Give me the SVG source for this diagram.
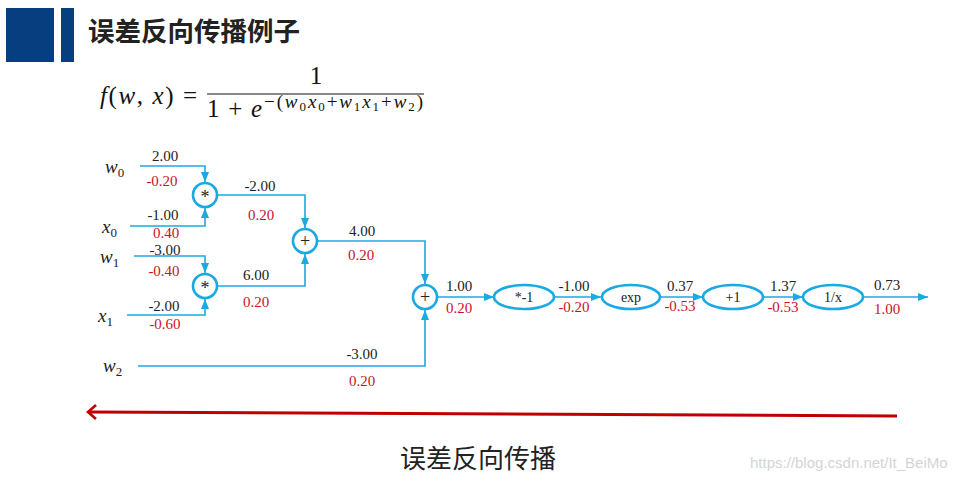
<svg xmlns="http://www.w3.org/2000/svg" width="963" height="481" viewBox="0 0 963 481">
<style>
.bg{fill:#fff}
.bar{fill:#063e80}
.title{font-family:"Noto Sans CJK SC","Noto Sans",sans-serif;font-weight:bold;font-size:26.5px;fill:#222}
.math{font-family:"Liberation Serif","DejaVu Serif",serif;fill:#111}
.it{font-style:italic}
.node{fill:#fff;stroke:#1ba9e1;stroke-width:2.6}
.edge{fill:none;stroke:#1ba9e1;stroke-width:1.6}
.op{font-family:"Liberation Serif",serif;font-size:14px;fill:#222;text-anchor:middle}
.opc{font-family:"Liberation Serif",serif;font-size:18px;fill:#222;text-anchor:middle}
.val{font-family:"Liberation Serif",serif;font-size:15px;fill:#222;text-anchor:middle}
.grad{font-family:"Liberation Serif",serif;font-size:15px;fill:#c8141e;text-anchor:middle}
.var{font-family:"Liberation Serif",serif;font-size:19px;font-style:italic;fill:#222}
.sub{font-size:13px;font-style:normal}
.cap{font-family:"Noto Sans CJK SC","Noto Sans",sans-serif;font-size:26px;fill:#222;text-anchor:middle}
.wm{font-family:"Liberation Sans",sans-serif;font-size:15px;fill:#d4d4d4}
</style>
<defs>
<marker id="ah" markerUnits="userSpaceOnUse" markerWidth="10" markerHeight="10" viewBox="0 0 10 10" refX="10" refY="5" orient="auto">
<path d="M0,1 L10,5 L0,9 Z" fill="#1ba9e1"/>
</marker>
<marker id="rah" markerUnits="userSpaceOnUse" markerWidth="14" markerHeight="16" viewBox="0 0 14 16" refX="11" refY="8" orient="auto">
<path d="M3,1 L11,8 L3,15" fill="none" stroke="#c00000" stroke-width="2.6"/>
</marker>
</defs>
<rect class="bg" x="0" y="0" width="963" height="481"/>
<g id="header">
<rect class="bar" x="6" y="8" width="48" height="54"/>
<rect class="bar" x="61" y="8" width="13" height="54"/>
<text class="title" x="88" y="41">误差反向传播例子</text>
</g>
<g id="formula" class="math">
<text x="100" y="104" font-size="25" textLength="97" lengthAdjust="spacing"><tspan class="it">f</tspan>(<tspan class="it">w</tspan>, <tspan class="it">x</tspan>) =</text>
<text x="316" y="84" font-size="25" text-anchor="middle">1</text>
<line x1="207" y1="94" x2="424" y2="94" stroke="#111" stroke-width="1.2"/>
<text x="207" y="117" font-size="25" textLength="55" lengthAdjust="spacing">1 + <tspan class="it">e</tspan></text>
<text x="264" y="108" font-size="19" textLength="159" lengthAdjust="spacing">−(<tspan class="it">w</tspan><tspan font-size="13" dy="3">0</tspan><tspan class="it" dy="-3">x</tspan><tspan font-size="13" dy="3">0</tspan><tspan dy="-3">+</tspan><tspan class="it">w</tspan><tspan font-size="13" dy="3">1</tspan><tspan class="it" dy="-3">x</tspan><tspan font-size="13" dy="3">1</tspan><tspan dy="-3">+</tspan><tspan class="it">w</tspan><tspan font-size="13" dy="3">2</tspan><tspan dy="-3">)</tspan></text>
</g>
<g id="connectors">
<path class="edge" d="M140,166 H205 V182" marker-end="url(#ah)"/>
<path class="edge" d="M130,226 H205 V208" marker-end="url(#ah)"/>
<path class="edge" d="M134,256 H205 V273" marker-end="url(#ah)"/>
<path class="edge" d="M127,315 H205 V299" marker-end="url(#ah)"/>
<path class="edge" d="M218,195 H305 V228" marker-end="url(#ah)"/>
<path class="edge" d="M218,286 H305 V254" marker-end="url(#ah)"/>
<path class="edge" d="M318,241 H425 V284" marker-end="url(#ah)"/>
<path class="edge" d="M138,366 H425 V310" marker-end="url(#ah)"/>
<path class="edge" d="M438,297 H494" marker-end="url(#ah)"/>
<path class="edge" d="M554,297 H601" marker-end="url(#ah)"/>
<path class="edge" d="M660,297 H703" marker-end="url(#ah)"/>
<path class="edge" d="M763,297 H803" marker-end="url(#ah)"/>
<path class="edge" d="M863,297 H928" marker-end="url(#ah)"/>
</g>
<g id="inputs">
<text class="var" x="105" y="173">w<tspan class="sub" dy="4">0</tspan></text>
<text class="var" x="102" y="233">x<tspan class="sub" dy="4">0</tspan></text>
<text class="var" x="100" y="263">w<tspan class="sub" dy="4">1</tspan></text>
<text class="var" x="98" y="322">x<tspan class="sub" dy="4">1</tspan></text>
<text class="var" x="103" y="372">w<tspan class="sub" dy="4">2</tspan></text>
</g>
<g id="mul1"><circle class="node" cx="205" cy="195" r="12"/><text class="opc" x="205" y="203">*</text></g>
<g id="mul2"><circle class="node" cx="205" cy="286" r="12"/><text class="opc" x="205" y="294">*</text></g>
<g id="add1"><circle class="node" cx="305" cy="241" r="12"/><text class="opc" x="305" y="247">+</text></g>
<g id="add2"><circle class="node" cx="425" cy="297" r="12"/><text class="opc" x="425" y="303">+</text></g>
<g id="neg"><ellipse class="node" cx="524" cy="297" rx="30" ry="12"/><text class="op" x="524" y="302">*-1</text></g>
<g id="exp"><ellipse class="node" cx="631" cy="297" rx="29" ry="12"/><text class="op" x="631" y="302">exp</text></g>
<g id="plus1"><ellipse class="node" cx="733" cy="297" rx="30" ry="12"/><text class="op" x="733" y="302">+1</text></g>
<g id="recip"><ellipse class="node" cx="833" cy="297" rx="30" ry="12"/><text class="op" x="833" y="302">1/x</text></g>
<g id="labels">
<text class="val" x="165" y="161">2.00</text><text class="grad" x="162" y="186">-0.20</text>
<text class="val" x="163" y="220">-1.00</text><text class="grad" x="166" y="238">0.40</text>
<text class="val" x="165" y="255">-3.00</text><text class="grad" x="164" y="276">-0.40</text>
<text class="val" x="164" y="311">-2.00</text><text class="grad" x="165" y="329">-0.60</text>
<text class="val" x="260" y="191">-2.00</text><text class="grad" x="261" y="220">0.20</text>
<text class="val" x="256" y="280">6.00</text><text class="grad" x="256" y="307">0.20</text>
<text class="val" x="362" y="236">4.00</text><text class="grad" x="361" y="260">0.20</text>
<text class="val" x="362" y="359">-3.00</text><text class="grad" x="362" y="386">0.20</text>
<text class="val" x="459" y="291">1.00</text><text class="grad" x="459" y="313">0.20</text>
<text class="val" x="574" y="291">-1.00</text><text class="grad" x="574" y="312">-0.20</text>
<text class="val" x="680" y="291">0.37</text><text class="grad" x="680" y="311">-0.53</text>
<text class="val" x="783" y="291">1.37</text><text class="grad" x="783" y="312">-0.53</text>
<text class="val" x="887" y="290">0.73</text><text class="grad" x="887" y="314">1.00</text>
</g>
<g id="backprop">
<line x1="897" y1="416" x2="88" y2="412" stroke="#c00000" stroke-width="3" marker-end="url(#rah)"/>
<text class="cap" x="478" y="468">误差反向传播</text>
</g>
<text class="wm" x="750" y="468">https://blog.csdn.net/It_BeiMo</text>
</svg>
